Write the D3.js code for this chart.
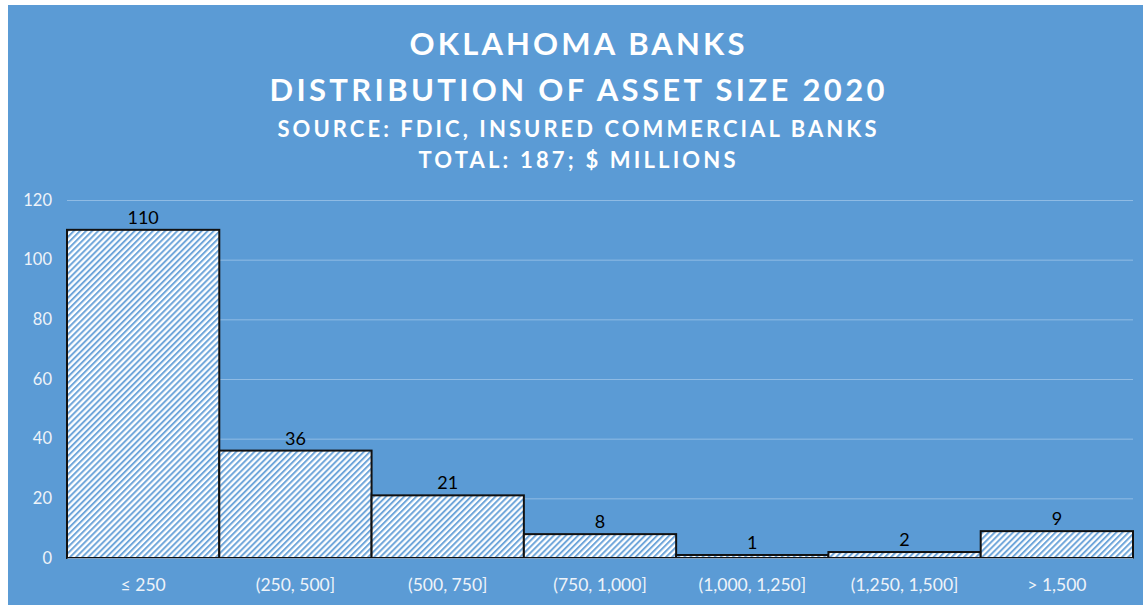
<!DOCTYPE html>
<html>
<head>
<meta charset="utf-8">
<script src="https://cdn.jsdelivr.net/npm/d3@7"></script>
<style>
  body { margin: 0; background: #fff; }
  svg { display: block; }
</style>
</head>
<body>
<div class="chart"></div>
<script>
// asset size buckets ($ millions) and bank counts
var categories = ["\u2264 250", "(250, 500]", "(500, 750]", "(750, 1,000]", "(1,000, 1,250]", "(1,250, 1,500]", "> 1,500"];
var counts = [110, 36, 21, 8, 1, 2, 9];
var yTicks = [0, 20, 40, 60, 80, 100, 120];
var titleLines = ["OKLAHOMA BANKS", "DISTRIBUTION  OF ASSET SIZE 2020", "SOURCE: FDIC, INSURED COMMERCIAL BANKS", "TOTAL: 187; $ MILLIONS"];

var W = 1143, H = 607;
var margin = {top: 200, right: 10, bottom: 49, left: 67},
    width = 1133 - margin.left,
    height = 558 - margin.top;

var svg = d3.select(".chart").append("svg")
    .attr("width", W)
    .attr("height", H);

// diagonal hatch
var defs = svg.append("defs");
var pat = defs.append("pattern")
    .attr("id", "hatch")
    .attr("patternUnits", "userSpaceOnUse")
    .attr("width", 4.3).attr("height", 4.3)
    .attr("patternTransform", "rotate(45)");
pat.append("rect").attr("width", 4.3).attr("height", 4.3).attr("fill", "#ffffff");
pat.append("line")
    .attr("x1", 1).attr("y1", 0).attr("x2", 1).attr("y2", 4.3)
    .attr("stroke", "#6fa6da").attr("stroke-width", 2);

svg.append("rect")
    .attr("x", 8).attr("y", 5)
    .attr("width", W - 8).attr("height", H - 7)
    .attr("fill", "#5b9bd5");

// titles
var titleY = [55, 101, 137, 168],
    titleSize = [31, 31, 22, 22],
    titleW = [335, 615, 599, 317];
svg.selectAll(".title")
    .data(titleLines)
  .enter().append("text")
    .attr("class", "title")
    .attr("x", 577)
    .attr("y", function(d, i) { return titleY[i]; })
    .attr("text-anchor", "middle")
    .attr("textLength", function(d, i) { return titleW[i]; })
    .attr("lengthAdjust", "spacing")
    .style("font-family", "Lato, 'Open Sans', sans-serif")
    .style("font-weight", "bold")
    .style("font-size", function(d, i) { return titleSize[i] + "px"; })
    .attr("fill", "#ffffff")
    .text(function(d) { return d; });

var g = svg.append("g")
    .attr("transform", "translate(" + margin.left + "," + margin.top + ")");

var x = d3.scaleBand().domain(categories).range([0, width]).padding(0);
var y = d3.scaleLinear().domain([0, 120]).range([height, 0]);

// gridlines
g.selectAll(".grid")
    .data(yTicks)
  .enter().append("line")
    .attr("x1", 0).attr("x2", width)
    .attr("y1", function(d) { return y(d) + 0.5; })
    .attr("y2", function(d) { return y(d) + 0.5; })
    .attr("stroke", "#8fbbe4")
    .attr("stroke-width", 1);

// y axis labels
var yAxis = g.append("g")
    .call(d3.axisLeft(y).tickValues(yTicks).tickSize(0).tickPadding(15));
yAxis.select(".domain").remove();
yAxis.selectAll("text")
    .style("font-family", "Lato, 'Open Sans', sans-serif")
    .style("font-size", "16.5px")
    .attr("fill", "#eef3f9");

// bars
g.selectAll(".bar")
    .data(counts)
  .enter().append("rect")
    .attr("class", "bar")
    .attr("x", function(d, i) { return x(categories[i]); })
    .attr("y", function(d) { return y(d); })
    .attr("width", x.bandwidth())
    .attr("height", function(d) { return height - y(d); })
    .attr("fill", "url(#hatch)")
    .attr("stroke", "#111111")
    .attr("stroke-width", 2);

// data labels
g.selectAll(".lbl")
    .data(counts)
  .enter().append("text")
    .attr("x", function(d, i) { return x(categories[i]) + x.bandwidth() / 2; })
    .attr("y", function(d) { return y(d) - 6; })
    .attr("text-anchor", "middle")
    .style("font-family", "Lato, 'Open Sans', sans-serif")
    .style("font-size", "18px")
    .attr("fill", "#000000")
    .text(function(d) { return d; });

// x axis
var xAxis = g.append("g")
    .attr("transform", "translate(0," + height + ")")
    .call(d3.axisBottom(x).tickSize(0).tickPadding(21));
xAxis.select(".domain").attr("stroke", "#7f9fc0");
xAxis.selectAll("text")
    .style("font-family", "Lato, 'Open Sans', sans-serif")
    .style("font-size", "17.5px")
    .attr("fill", "#eef3f9");
</script>
</body>
</html>
